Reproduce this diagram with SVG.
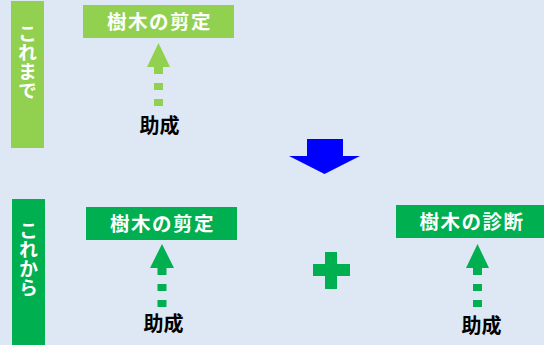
<svg xmlns="http://www.w3.org/2000/svg" width="544" height="345" viewBox="0 0 544 345">
<style>
.lbl{font-family:"Noto Sans CJK JP","Noto Sans CJK SC",sans-serif;font-weight:bold;fill:#fff;font-size:19.5px;text-anchor:middle;letter-spacing:1.5px}
.vt{font-family:"Noto Sans CJK JP","Noto Sans CJK SC",sans-serif;font-weight:bold;fill:#fff;font-size:19px;writing-mode:vertical-rl}
.sub{font-family:"Noto Sans CJK JP","Noto Sans CJK SC",sans-serif;font-weight:bold;fill:#000;font-size:20px;text-anchor:middle}
.lg{fill:#92D050}
.dg{fill:#00B050}
.dashlg{stroke:#92D050;stroke-width:9;stroke-dasharray:7 9;fill:none}
.dashdg{stroke:#00B050;stroke-width:9;stroke-dasharray:7 9;fill:none}
</style>
<rect width="544" height="345" fill="#DDE8F4"/>
<g id="label-koremade">
<rect class="lg" x="11" y="1" width="33" height="147"/>
<text class="vt" x="27.5" y="24">これまで</text>
</g>
<g id="label-korekara">
<rect class="dg" x="12" y="199" width="33" height="150"/>
<text class="vt" x="28.5" y="221">これから</text>
</g>
<g id="node-sentei-old">
<rect class="lg" x="83" y="5" width="151" height="33"/>
<text class="lbl" x="159.5" y="29">樹木の剪定</text>
</g>
<g id="node-sentei-new">
<rect class="dg" x="86" y="207" width="151" height="33"/>
<text class="lbl" x="162.5" y="231">樹木の剪定</text>
</g>
<g id="node-shindan">
<rect class="dg" x="396" y="205" width="150" height="33"/>
<text class="lbl" x="472" y="229">樹木の診断</text>
</g>
<g id="node-josei-1"><text class="sub" x="159.5" y="133">助成</text></g>
<g id="node-josei-2"><text class="sub" x="163.5" y="331">助成</text></g>
<g id="node-josei-3"><text class="sub" x="481.5" y="333">助成</text></g>
<g id="plus">
<path class="dg" d="M325 252h12v12h13v12h-13v13h-12v-13h-12v-12h12z"/>
</g>
<g id="connectors">
<path class="dashlg" d="M158.5 67V107"/>
<path class="lg" d="M158.5 43L147 67H170z"/>
<path class="dashdg" d="M162 268V308"/>
<path class="dg" d="M162 244L150 268H174z"/>
<path class="dashdg" d="M477.5 268V308"/>
<path class="dg" d="M477.5 244L466 268H489z"/>
<path fill="#0000FF" d="M307 139H343V156H360L324.5 174L289 156H307z"/>
</g>
</svg>
